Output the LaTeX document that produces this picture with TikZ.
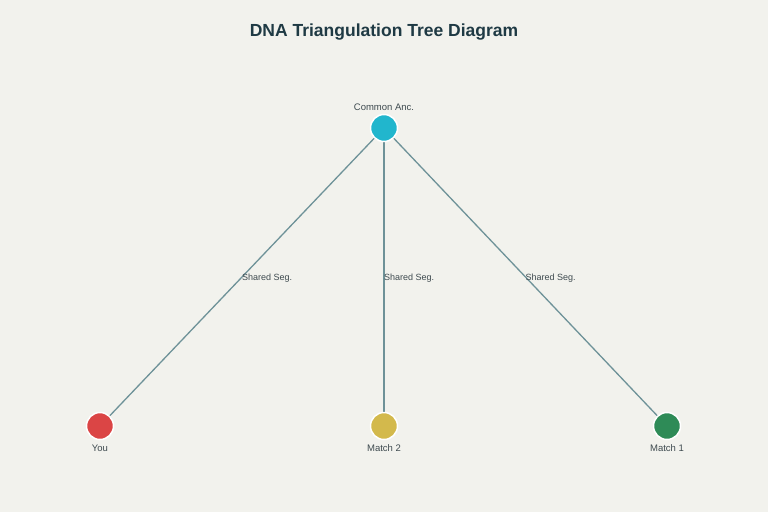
\documentclass[tikz,border=0pt]{standalone}
\usepackage{fontspec}
\setmainfont{Liberation Sans}
\definecolor{bg}{HTML}{F2F2ED}
\definecolor{edgec}{HTML}{6E9298}
\definecolor{titlec}{HTML}{1F3A44}
\definecolor{labc}{HTML}{3E4A4F}
\definecolor{cteal}{HTML}{21B6CD}
\definecolor{cred}{HTML}{DB4545}
\definecolor{cgold}{HTML}{D3B94C}
\definecolor{cgreen}{HTML}{2E8B57}
\begin{document}
\begin{tikzpicture}[x=1pt,y=-1pt,
  dot/.style={circle,draw=white,line width=1.5pt,minimum size=27pt,inner sep=0pt},
  link/.style={draw=edgec,line width=1.3pt},
  seg/.style={font=\fontsize{9}{10}\selectfont,text=labc,anchor=west,inner sep=0pt},
  nlab/.style={font=\fontsize{9.5}{11}\selectfont,text=labc,inner sep=0pt}]
\fill[bg] (0,0) rectangle (768,512);
\useasboundingbox (0,0) rectangle (768,512);
\node[font=\bfseries\fontsize{17.5}{20}\selectfont,text=titlec] (title) at (384,32.5) {DNA Triangulation Tree Diagram};
\coordinate (pa) at (384,128);
\coordinate (py) at (100,426);
\coordinate (pm2) at (384,426);
\coordinate (pm1) at (667,426);
\draw[link] (pa) -- (py) coordinate[midway] (s1);
\draw[link] (pa) -- (pm2) coordinate[midway] (s2);
\draw[link] (pa) -- (pm1) coordinate[midway] (s3);
\node[dot,fill=cteal] (anc) at (pa) {};
\node[dot,fill=cred] (you) at (py) {};
\node[dot,fill=cgold] (m2) at (pm2) {};
\node[dot,fill=cgreen] (m1) at (pm1) {};
\node[seg] (l1) at ([yshift=-1pt]s1) {Shared Seg.};
\node[seg] (l2) at ([yshift=-1pt]s2) {Shared Seg.};
\node[seg] (l3) at ([yshift=-1pt]s3) {Shared Seg.};
\node[nlab] (tanc) at (384,107) {Common Anc.};
\node[nlab] (tyou) at (100,448) {You};
\node[nlab] (tm2) at (384,448) {Match 2};
\node[nlab] (tm1) at (667,448) {Match 1};
\end{tikzpicture}
\end{document}
